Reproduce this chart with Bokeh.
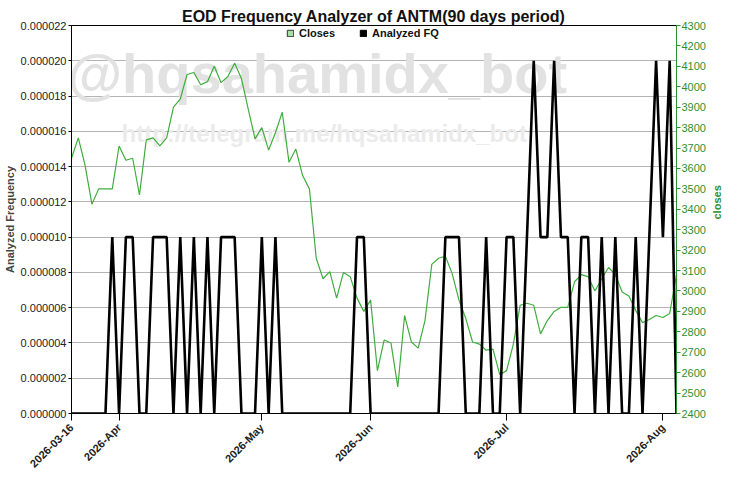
import math
from bokeh.plotting import figure
from bokeh.models import (Range1d, LinearAxis, FixedTicker, PrintfTickFormatter,
                          Label, Legend, LegendItem, ColumnDataSource)
from bokeh.embed import file_html
from bokeh.resources import INLINE

# ---------------- data ----------------
closes = [3650, 3750, 3615, 3425, 3500, 3500, 3500, 3710, 3640, 3650,
          3470, 3740, 3750, 3710, 3750, 3900, 3940, 4060, 4070, 4010,
          4025, 4100, 4020, 4050, 4115, 4040, 3890, 3745, 3800, 3690,
          3775, 3875, 3630, 3695, 3565, 3500, 3160, 3060, 3095, 2965,
          3090, 3070, 2965, 2900, 2955, 2610, 2760, 2745, 2530, 2880,
          2750, 2720, 2855, 3130, 3160, 3170, 3085, 2955, 2865, 2750,
          2740, 2710, 2715, 2590, 2610, 2740, 2930, 2940, 2930, 2790,
          2855, 2900, 2920, 2920, 3045, 3080, 3070, 3000, 3060, 3115,
          3080, 2995, 2975, 2905, 2845, 2860, 2880, 2870, 2890, 3080]

analyzed_fq = [0, 0, 0, 0, 0, 0, 1e-05, 0, 1e-05, 1e-05,
               0, 0, 1e-05, 1e-05, 1e-05, 0, 1e-05, 0, 1e-05, 0,
               1e-05, 0, 1e-05, 1e-05, 1e-05, 0, 0, 0, 1e-05, 0,
               1e-05, 0, 0, 0, 0, 0, 0, 0, 0, 0,
               0, 0, 1e-05, 1e-05, 0, 0, 0, 0, 0, 0,
               0, 0, 0, 0, 0, 1e-05, 1e-05, 1e-05, 0, 0,
               0, 1e-05, 0, 0, 1e-05, 1e-05, 0, 1e-05, 2e-05, 1e-05,
               1e-05, 2e-05, 1e-05, 1e-05, 0, 1e-05, 1e-05, 0, 1e-05, 0,
               1e-05, 0, 0, 1e-05, 0, 1e-05, 2e-05, 1e-05, 2e-05, 0]

day_index = list(range(len(closes)))

date_tick_index = [0, 7, 28, 44, 64, 87]
date_tick_labels = ["2026-03-16", "2026-Apr", "2026-May", "2026-Jun", "2026-Jul", "2026-Aug"]

fq_ticks = [i * 0.000002 for i in range(12)]
close_ticks = list(range(2400, 4301, 100))

FONT = "Liberation Sans"
GREEN_LINE = "#3fae3f"
GREEN_AXIS = "#2f8f2f"

src = ColumnDataSource(dict(x=day_index, close=closes, fq=analyzed_fq))

p = figure(width=740, height=480, output_backend="svg", toolbar_location=None,
           x_range=Range1d(0, len(closes) - 1),
           y_range=Range1d(0, 0.000022),
           min_border_left=70, min_border_right=64,
           min_border_top=25, min_border_bottom=67,
           title="EOD Frequency Analyzer of ANTM(90 days period)")

p.title.align = "center"
p.title.text_font = FONT
p.title.text_font_size = "16px"
p.title.text_font_style = "bold"
p.title.text_color = "#111111"
p.title.standoff = 2

p.outline_line_color = "black"
p.outline_line_width = 1
p.background_fill_color = "white"
p.border_fill_color = "white"

# watermarks (screen units, measured from the frame's bottom-left)
wm1 = Label(x=-4, y=340, x_units="screen", y_units="screen",
            text="@hqsahamidx_bot", text_font=FONT, text_font_style="bold",
            text_font_size="56px", text_color="#e2e2e2", text_baseline="alphabetic",
            level="underlay")
wm2 = Label(x=50, y=280, x_units="screen", y_units="screen",
            text="http://telegram.me/hqsahamidx_bot", text_font=FONT,
            text_font_style="bold", text_font_size="24px",
            text_color="#ebebeb", text_baseline="alphabetic", level="underlay")
p.add_layout(wm1)
p.add_layout(wm2)

# grid
p.xgrid.visible = False
p.ygrid.ticker = FixedTicker(ticks=fq_ticks)
p.ygrid.grid_line_color = "#b4b4b4"
p.ygrid.grid_line_width = 1

# right range
p.extra_y_ranges = {"closes": Range1d(2400, 4300)}

# lines
r_close = p.line("x", "close", source=src, y_range_name="closes",
                 line_color=GREEN_LINE, line_width=1.2)
r_fq = p.line("x", "fq", source=src, line_color="black", line_width=2.6)

# legend swatches (filled boxes, hidden in the plot itself)
leg_c = p.vbar(x="x", top="close", width=0.5, source=src, y_range_name="closes",
               fill_color="#a6e0a6", line_color="#333333", visible=False)
leg_f = p.vbar(x="x", top="fq", width=0.5, source=src,
               fill_color="black", line_color="black", visible=False)
legend = Legend(items=[LegendItem(label="Closes", renderers=[leg_c]),
                       LegendItem(label="Analyzed FQ", renderers=[leg_f])],
                location=(214, 373), orientation="horizontal",
                border_line_alpha=0, background_fill_alpha=0,
                inactive_fill_alpha=0,
                label_text_font=FONT, label_text_font_style="bold",
                label_text_font_size="11px", label_text_color="#111111",
                glyph_width=8, glyph_height=8, label_height=8,
                spacing=24, padding=1, margin=0, label_standoff=5)
p.add_layout(legend)

# left axis
ya = p.yaxis[0]
ya.ticker = FixedTicker(ticks=fq_ticks)
ya.formatter = PrintfTickFormatter(format="%.6f")
ya.axis_label = "Analyzed Frequency"
ya.axis_label_text_font = FONT
ya.axis_label_text_font_style = "bold"
ya.axis_label_text_font_size = "11px"
ya.axis_label_standoff = 2
ya.major_label_text_font = FONT
ya.major_label_text_font_size = "11px"
ya.major_label_text_color = "#222222"
ya.major_label_standoff = 2
ya.major_tick_out = 3
ya.major_tick_in = 0
ya.minor_tick_line_color = None
ya.axis_line_color = "black"

# right axis
ra = LinearAxis(y_range_name="closes", ticker=FixedTicker(ticks=close_ticks),
                axis_label="closes")
ra.axis_label_text_font = FONT
ra.axis_label_text_font_style = "bold"
ra.axis_label_text_font_size = "11px"
ra.axis_label_text_color = GREEN_AXIS
ra.axis_label_standoff = 8
ra.axis_label_orientation = math.pi / 2
ra.major_label_text_font = FONT
ra.major_label_text_font_size = "11px"
ra.major_label_text_color = GREEN_AXIS
ra.major_label_standoff = 1
ra.major_tick_out = 4
ra.major_tick_in = 0
ra.major_tick_line_color = GREEN_AXIS
ra.minor_tick_line_color = None
ra.axis_line_color = GREEN_AXIS
p.add_layout(ra, "right")

# bottom axis
xa = p.xaxis[0]
xa.ticker = FixedTicker(ticks=date_tick_index)
xa.major_label_overrides = {i: lab for i, lab in zip(date_tick_index, date_tick_labels)}
xa.major_label_orientation = math.pi / 4
xa.major_label_text_font = FONT
xa.major_label_text_font_style = "bold"
xa.major_label_text_font_size = "11px"
xa.major_label_text_color = "#222222"
xa.major_label_standoff = 5
xa.major_tick_out = 7
xa.major_tick_in = 0
xa.minor_tick_line_color = None
xa.axis_line_color = "black"

open("out.html", "w").write(file_html(p, INLINE))
